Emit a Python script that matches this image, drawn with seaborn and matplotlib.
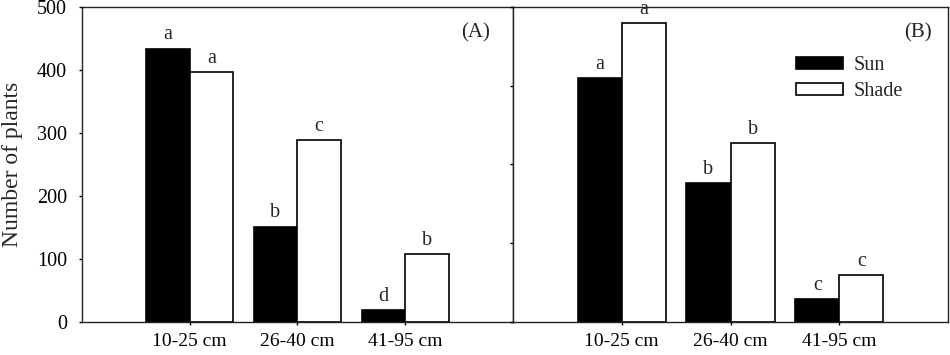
import matplotlib
matplotlib.use("Agg")
import matplotlib.pyplot as plt
import seaborn as sns
import pandas as pd

sns.set_theme(style="ticks")
plt.rcParams["font.family"] = ["Liberation Serif", "DejaVu Serif"]

size_classes = ["10-25 cm", "26-40 cm", "41-95 cm"]
light = ["Sun", "Shade"]

# panel A
sun_a = [434, 151, 19]
shade_a = [397, 288, 107]
sun_a_letters = ["a", "b", "d"]
shade_a_letters = ["a", "c", "b"]

# panel B (no tick labels in the original, scale 0-400)
sun_b = [310, 176, 29]
shade_b = [380, 227, 59]
sun_b_letters = ["a", "b", "c"]
shade_b_letters = ["a", "b", "c"]

colors = {"Sun": "black", "Shade": "white"}


def make_df(sun, shade):
    return pd.DataFrame({
        "size": size_classes * 2,
        "light": ["Sun"] * len(sun) + ["Shade"] * len(shade),
        "n": sun + shade,
    })


def draw_panel(ax, sun, shade, sun_letters, shade_letters, ymax, tag, tag_x, legend):
    df = make_df(sun, shade)
    sns.barplot(data=df, x="size", y="n", hue="light", hue_order=light,
                palette=colors, edgecolor="black", linewidth=1.2,
                width=0.81, ax=ax, legend=legend)
    for cont, labs in zip(ax.containers, [sun_letters, shade_letters]):
        ax.bar_label(cont, labels=labs, padding=3, fontsize=14.5)
    ax.set_xlim(-1, 3)
    ax.set_ylim(0, ymax)
    ax.set(xlabel="", ylabel="")
    ax.text(tag_x, 0.917, tag, transform=ax.transAxes, ha="right", va="center", fontsize=15)
    for sp in ax.spines.values():
        sp.set_visible(True)
        sp.set_color("#222222")
        sp.set_linewidth(1.0)
    ax.tick_params(axis="x", length=2.5, width=1, pad=5.5, labelsize=14, colors="black")
    ax.tick_params(axis="y", length=2.5, width=1, pad=8, labelsize=14.5, colors="black")


fig = plt.figure(figsize=(9.5, 3.55), dpi=100)
ax_a = fig.add_axes([0.086, 0.094, 0.454, 0.886])
ax_b = fig.add_axes([0.540, 0.094, 0.458, 0.886])

draw_panel(ax_a, sun_a, shade_a, sun_a_letters, shade_a_letters, 500, "(A)", 0.947, False)
ax_a.set_yticks([0, 100, 200, 300, 400, 500])
ax_a.set_ylabel("Number of plants", fontsize=17)
ax_a.yaxis.set_label_coords(-0.135, 0.5)

draw_panel(ax_b, sun_b, shade_b, sun_b_letters, shade_b_letters, 400, "(B)", 0.963, True)
ax_b.set_yticks([0, 100, 200, 300, 400])
ax_b.set_yticklabels([])
sns.move_legend(ax_b, "upper left", bbox_to_anchor=(0.651, 0.844), frameon=False,
                title=None, fontsize=14.5, handlelength=2.3, handleheight=0.5,
                handletextpad=0.55, labelspacing=0.35, borderpad=0, borderaxespad=0)

fig.savefig("out.png", dpi=100)
